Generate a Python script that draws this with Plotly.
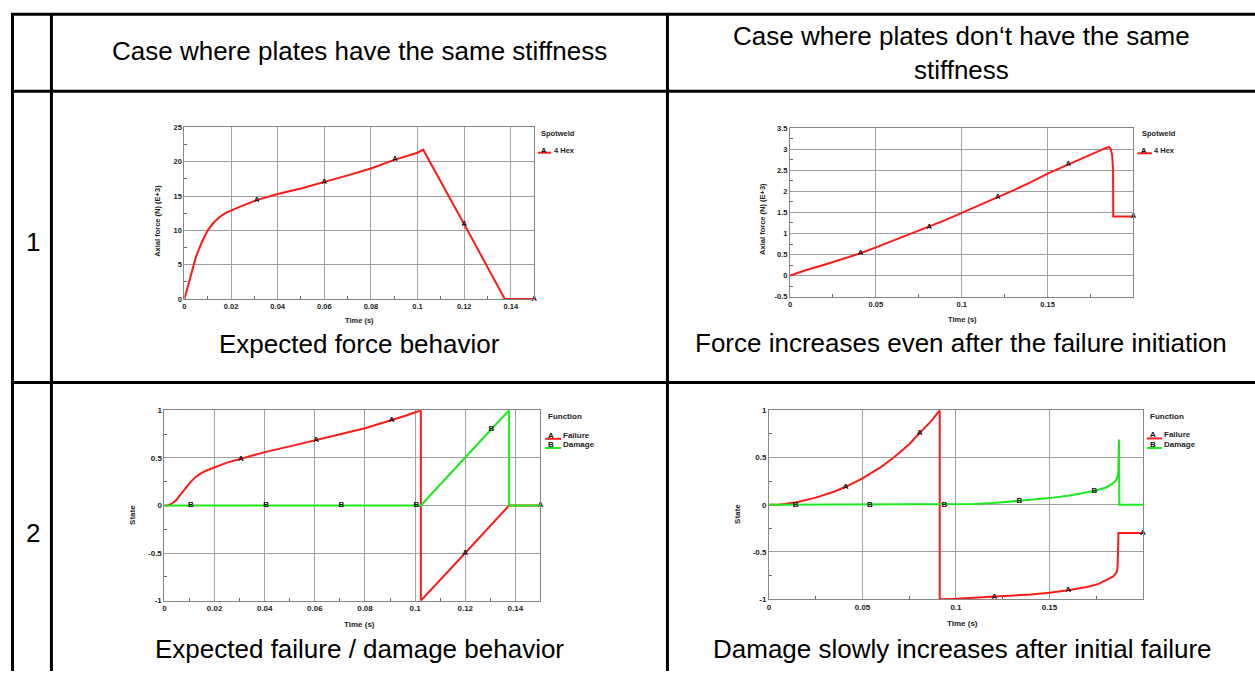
import plotly.graph_objects as go

W, H = 1255, 675

# ---------------- data ----------------
# Panel 1: plates with the same stiffness - axial force (kN) vs time (s)
c1_t = [0, 0.0025, 0.005, 0.0075, 0.01, 0.0125, 0.015, 0.0175, 0.02, 0.025, 0.031, 0.04,
        0.05, 0.06, 0.07, 0.08, 0.0903, 0.1, 0.1024, 0.12, 0.1374, 0.15]
c1_f = [0, 3.0, 6.2, 8.3, 10.0, 11.1, 11.9, 12.5, 12.9, 13.6, 14.4, 15.3,
        16.1, 17.0, 18.0, 19.0, 20.3, 21.3, 21.75, 10.9, 0, 0]
c1_marks = [0.031, 0.06, 0.0903, 0.12, 0.15]

# Panel 2: plates with different stiffness - axial force (kN) vs time (s)
c2_t = [0, 0.01, 0.02, 0.03, 0.041, 0.05, 0.06, 0.07, 0.081, 0.09, 0.1, 0.11, 0.121, 0.13,
        0.14, 0.15, 0.162, 0.17, 0.178, 0.183, 0.1858, 0.1868, 0.1876, 0.1881, 0.1882, 0.2]
c2_f = [0, 0.14, 0.26, 0.38, 0.53, 0.67, 0.83, 0.99, 1.16, 1.31, 1.49, 1.66, 1.86, 2.02,
        2.21, 2.42, 2.64, 2.79, 2.93, 3.01, 3.05, 3.0, 2.85, 2.5, 1.40, 1.40]
c2_marks = [0.041, 0.081, 0.121, 0.162, 0.2]

# Panel 3: same stiffness - failure / damage state
c3_fail_t = [0, 0.0015, 0.003, 0.0045, 0.006, 0.0082, 0.0102, 0.0125, 0.015, 0.0175, 0.02,
             0.025, 0.0305, 0.04, 0.05, 0.0605, 0.0705, 0.08, 0.0906, 0.0965, 0.1023,
             0.1023, 0.12, 0.1375, 0.15]
c3_fail_v = [0, 0.0, 0.02, 0.05, 0.10, 0.18, 0.24, 0.30, 0.345, 0.375, 0.40,
             0.45, 0.49, 0.56, 0.62, 0.69, 0.75, 0.81, 0.895, 0.945, 1.0,
             -1.0, -0.5, 0.0, 0.0]
c3_fail_marks = [0.0305, 0.0605, 0.0906, 0.12, 0.15]
c3_dam_t = [0, 0.0106, 0.0406, 0.0706, 0.1005, 0.1023, 0.1304, 0.1375, 0.1375, 0.15]
c3_dam_v = [0, 0, 0, 0, 0, 0, 0.80, 1.0, 0, 0]
c3_dam_marks = [0.0106, 0.0406, 0.0706, 0.1005, 0.1304]

# Panel 4: different stiffness - failure / damage state
c4_fail_t = [0, 0.005, 0.0142, 0.025, 0.035, 0.041, 0.05, 0.06, 0.0667, 0.075, 0.0806, 0.087,
             0.0913, 0.0913, 0.1, 0.11, 0.1206, 0.13, 0.14, 0.15, 0.16, 0.17, 0.176, 0.18,
             0.184, 0.1858, 0.1864, 0.1867, 0.1869, 0.2]
c4_fail_v = [0, 0.0, 0.024, 0.075, 0.14, 0.19, 0.28, 0.40, 0.50, 0.64, 0.76, 0.89,
             1.0, -1.0, -0.995, -0.985, -0.977, -0.965, -0.95, -0.93, -0.905, -0.87, -0.84, -0.80,
             -0.76, -0.72, -0.68, -0.5, -0.30, -0.30]
c4_fail_marks = [0.041, 0.0806, 0.1206, 0.16, 0.2]
c4_dam_t = [0, 0.0142, 0.0539, 0.0938, 0.1, 0.11, 0.12, 0.134, 0.15, 0.16, 0.174, 0.18,
            0.184, 0.186, 0.1868, 0.1872, 0.1874, 0.2]
c4_dam_v = [0, 0, 0, 0, 0.0, 0.008, 0.018, 0.04, 0.07, 0.095, 0.145, 0.18,
            0.225, 0.27, 0.33, 0.69, 0.0, 0.0]
c4_dam_marks = [0.0142, 0.0539, 0.0938, 0.134, 0.174]

# tick values / labels
x_ticks_015 = [0, 0.02, 0.04, 0.06, 0.08, 0.1, 0.12, 0.14]
x_labels_015 = ["0", "0.02", "0.04", "0.06", "0.08", "0.1", "0.12", "0.14"]
x_minor_015 = [0.01, 0.03, 0.05, 0.07, 0.09, 0.11, 0.13]
x_ticks_02 = [0, 0.05, 0.1, 0.15]
x_labels_02 = ["0", "0.05", "0.1", "0.15"]
x_minor_02 = [0.025, 0.075, 0.125, 0.175]
y1_ticks = [0, 5, 10, 15, 20, 25]
y1_labels = ["0", "5", "10", "15", "20", "25"]
y1_minor = [2.5, 7.5, 12.5, 17.5, 22.5]
y2_ticks = [-0.5, 0, 0.5, 1, 1.5, 2, 2.5, 3, 3.5]
y2_labels = ["-0.5", "0", "0.5", "1", "1.5", "2", "2.5", "3", "3.5"]
y2_minor = [-0.25, 0.25, 0.75, 1.25, 1.75, 2.25, 2.75, 3.25]
ys_ticks = [-1, -0.5, 0, 0.5, 1]
ys_labels = ["-1", "-0.5", "0", "0.5", "1"]
ys_minor = [-0.75, -0.25, 0.25, 0.75]

# table text
header_1 = "Case where plates have the same stiffness"
header_2 = "Case where plates don\u2018t have the same<br>stiffness"
row_labels = ["1", "2"]
captions = ["Expected force behavior", "Force increases even after the failure initiation",
            "Expected failure / damage behavior", "Damage slowly increases after initial failure"]

# ---------------- styling ----------------
FONT = "Liberation Sans, Arial, sans-serif"
RED = "#ff1a1a"
GREEN = "#1ee81e"
GRID = "#a0a0a0"
AXL = "#858585"
TS = 26  # table font size


def P(x, y):
    return x / W, 1 - y / H


def labels(ts, marks, letter):
    return [letter if any(abs(t - m) < 1e-9 for m in marks) else "" for t in ts]


fig = go.Figure()

panels = [
    dict(box=(182.7, 533.0, 125.0, 299.0), xr=[0, 0.15], xt=x_ticks_015, xl=x_labels_015, xm=x_minor_015,
         yr=[0, 25], yt=y1_ticks, yl=y1_labels, ym=y1_minor, fs=7.5),
    dict(box=(789.3, 1133.3, 125.7, 296.7), xr=[0, 0.2], xt=x_ticks_02, xl=x_labels_02, xm=x_minor_02,
         yr=[-0.5, 3.5], yt=y2_ticks, yl=y2_labels, ym=y2_minor, fs=7.5),
    dict(box=(162.7, 539.3, 411.7, 604.7), xr=[0, 0.15], xt=x_ticks_015, xl=x_labels_015, xm=x_minor_015,
         yr=[-1, 1], yt=ys_ticks, yl=ys_labels, ym=ys_minor, fs=8),
    dict(box=(768.3, 1142.7, 411.7, 603.3), xr=[0, 0.2], xt=x_ticks_02, xl=x_labels_02, xm=x_minor_02,
         yr=[-1, 1], yt=ys_ticks, yl=ys_labels, ym=ys_minor, fs=8),
]

for i, p in enumerate(panels, start=1):
    x0, x1, y0, y1 = p["box"]
    tf = dict(family=FONT, size=p["fs"], color="#222", weight="bold")
    xa = dict(domain=[x0 / W, x1 / W], range=p["xr"], anchor="y%d" % i if i > 1 else "y",
              tickmode="array", tickvals=p["xt"], ticktext=p["xl"], ticks="",
              showgrid=True, gridcolor=GRID, gridwidth=1, zeroline=False,
              showline=True, mirror=True, linecolor=AXL, linewidth=1, tickfont=tf,
              minor=dict(tickmode="array", tickvals=p["xm"], ticks="inside", ticklen=3,
                         tickcolor="#666", showgrid=False),
              fixedrange=True)
    ya = dict(domain=[1 - y1 / H, 1 - y0 / H], range=p["yr"], anchor="x%d" % i if i > 1 else "x",
              tickmode="array", tickvals=p["yt"], ticktext=p["yl"], ticks="",
              showgrid=True, gridcolor=GRID, gridwidth=1, zeroline=False,
              showline=True, mirror=True, linecolor=AXL, linewidth=1, tickfont=tf,
              minor=dict(tickmode="array", tickvals=p["ym"], ticks="inside", ticklen=3,
                         tickcolor="#666", showgrid=False),
              fixedrange=True)
    fig.layout["xaxis" if i == 1 else "xaxis%d" % i] = xa
    fig.layout["yaxis" if i == 1 else "yaxis%d" % i] = ya

mark_font7 = dict(family=FONT, size=7.5, color="#111", weight="bold")
mark_font8 = dict(family=FONT, size=8, color="#111", weight="bold")


def add_line(t, v, marks, letter, color, ax, mf):
    fig.add_trace(go.Scatter(x=t, y=v, mode="lines+text", text=labels(t, marks, letter),
                             textposition="middle center", textfont=mf,
                             line=dict(color=color, width=2), xaxis="x" + ax, yaxis="y" + ax,
                             cliponaxis=False, showlegend=False, hoverinfo="skip"))


add_line(c1_t, c1_f, c1_marks, "A", RED, "", mark_font7)
add_line(c2_t, c2_f, c2_marks, "A", RED, "2", mark_font7)
add_line(c3_fail_t, c3_fail_v, c3_fail_marks, "A", RED, "3", mark_font8)
add_line(c3_dam_t, c3_dam_v, c3_dam_marks, "B", GREEN, "3", mark_font8)
add_line(c4_fail_t, c4_fail_v, c4_fail_marks, "A", RED, "4", mark_font8)
add_line(c4_dam_t, c4_dam_v, c4_dam_marks, "B", GREEN, "4", mark_font8)

annotations = []
shapes = []


def text(x, y, s, size, bold=False, angle=0, xanchor="center", color="#000"):
    px, py = P(x, y)
    annotations.append(dict(x=px, y=py, xref="paper", yref="paper", text=s, showarrow=False,
                            xanchor=xanchor, yanchor="middle", textangle=angle,
                            font=dict(family=FONT, size=size, color=color,
                                      weight="bold" if bold else "normal")))


def seg(xa, ya, xb, yb, color, width):
    ax, ay = P(xa, ya)
    bx, by = P(xb, yb)
    shapes.append(dict(type="line", xref="paper", yref="paper", x0=ax, y0=ay, x1=bx, y1=by,
                       line=dict(color=color, width=width)))


# table grid
for yy in (10.5, 88.5, 383.5):
    seg(9, yy, 1256, yy, "#000", 3)
for xx in (10.5, 49.5, 666.5):
    seg(xx, 9, xx, 676, "#000", 3)

# table text
text(358, 48, header_1, TS)
text(961, 50, header_2, TS)
text(31, 241, row_labels[0], TS)
text(31, 536, row_labels[1], TS)
text(358, 345, captions[0], TS)
text(961, 344, captions[1], TS)
text(358, 654, captions[2], TS)
text(962, 654, captions[3], TS)

# axis titles
text(358, 321, "Time (s)", 7.5, bold=True, color="#222")
text(962, 320, "Time (s)", 7.5, bold=True, color="#222")
text(358, 629, "Time (s)", 8, bold=True, color="#222")
text(962, 628, "Time (s)", 8, bold=True, color="#222")
text(155, 220, "Axial force (N) (E+3)", 7.5, bold=True, angle=-90, color="#222")
text(761, 218, "Axial force (N) (E+3)", 7.5, bold=True, angle=-90, color="#222")
text(130, 518, "State", 8, bold=True, angle=-90, color="#222")
text(736, 517, "State", 8, bold=True, angle=-90, color="#222")

# legends
text(538, 131, "Spotweld", 7.5, bold=True, xanchor="left", color="#222")
seg(536.7, 150.7, 550, 150.7, RED, 2)
text(543, 148, "A", 7.5, bold=True, color="#111")
text(550.7, 148.3, "4 Hex", 7.5, bold=True, xanchor="left", color="#222")

text(1140, 131.7, "Spotweld", 7.5, bold=True, xanchor="left", color="#222")
seg(1137.3, 151.3, 1151.7, 151.3, RED, 2)
text(1144.3, 148.7, "A", 7.5, bold=True, color="#111")
text(1151.7, 148.7, "4 Hex", 7.5, bold=True, xanchor="left", color="#222")

text(545, 417.7, "Function", 8, bold=True, xanchor="left", color="#222")
seg(544, 440.7, 560, 440.7, RED, 2)
text(550, 437.3, "A", 8, bold=True, color="#111")
text(560, 437.3, "Failure", 8, bold=True, xanchor="left", color="#222")
seg(544, 450, 560, 450, GREEN, 2)
text(550, 446.7, "B", 8, bold=True, color="#111")
text(560, 446.7, "Damage", 8, bold=True, xanchor="left", color="#222")

text(1147.7, 417.7, "Function", 8, bold=True, xanchor="left", color="#222")
seg(1146.7, 440.3, 1161.7, 440.3, RED, 2)
text(1153.3, 436.7, "A", 8, bold=True, color="#111")
text(1161.7, 436.7, "Failure", 8, bold=True, xanchor="left", color="#222")
seg(1146.7, 450, 1161.7, 450, GREEN, 2)
text(1153.3, 446.7, "B", 8, bold=True, color="#111")
text(1161.7, 446.7, "Damage", 8, bold=True, xanchor="left", color="#222")

fig.update_layout(width=W, height=H, margin=dict(l=0, r=0, t=0, b=0),
                  paper_bgcolor="white", plot_bgcolor="white", showlegend=False,
                  annotations=annotations, shapes=shapes,
                  font=dict(family=FONT))

fig.write_html("out.html", config={"displayModeBar": False})
